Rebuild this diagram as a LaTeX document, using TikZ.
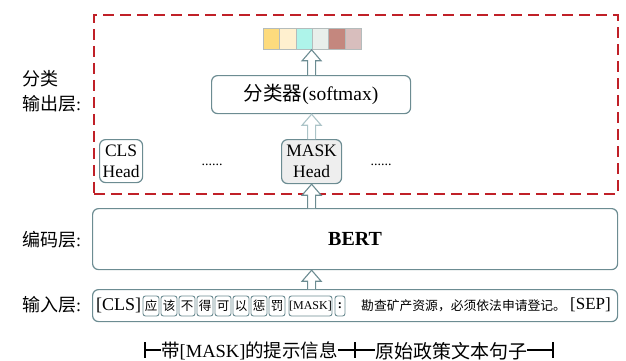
\documentclass[tikz,border=0pt]{standalone}
\usepackage{fontspec}
\setmainfont{Liberation Serif}
\newfontfamily\cjk{Noto Sans CJK SC}
\usetikzlibrary{calc}
\definecolor{bd}{RGB}{108,140,146}
\definecolor{bdl}{RGB}{172,196,200}
\definecolor{redd}{RGB}{192,32,40}
\definecolor{cA}{HTML}{FDDB7D}
\definecolor{cB}{HTML}{FFF0CF}
\definecolor{cC}{HTML}{AEF4EA}
\definecolor{cD}{HTML}{E9EFEB}
\definecolor{cE}{HTML}{C4877E}
\definecolor{cF}{HTML}{D8BEBD}
\definecolor{cellbd}{HTML}{B4BCBC}
\definecolor{headfill}{HTML}{EEEEEE}
\newcommand\hollowup[3][bd]{%
  \draw[draw=#1, line width=1.1pt, fill=white, line join=miter]
    let \p1=(#2), \p2=(#3) in
    (\x1-4pt,\y1) -- (\x1-4pt,\y2-11pt) -- (\x1-9.5pt,\y2-11pt) -- (\x1,\y2)
    -- (\x1+9.5pt,\y2-11pt) -- (\x1+4pt,\y2-11pt) -- (\x1+4pt,\y1);
}
\begin{document}
\begin{tikzpicture}[x=1pt,y=-1pt,
  box/.style={draw=bd, line width=1.2pt, rounded corners=6pt, fill=white, inner sep=0pt, anchor=north west},
  tok/.style={draw=bd, line width=0.9pt, rounded corners=2.5pt, fill=white, inner sep=0pt,
     minimum height=20pt, font=\fontsize{12.5}{13}\selectfont},
  cell/.style={draw=cellbd, line width=0.8pt, inner sep=0pt, minimum width=16.3pt, minimum height=21pt, anchor=north west},
  lab/.style={anchor=west, inner sep=0pt, font=\fontsize{18}{20}\selectfont},
  headtxt/.style={align=center, font=\fontsize{17.5}{21}\selectfont},
  rule/.style={line width=1.1pt, black}
]
\useasboundingbox (0,0) rectangle (626,361);

% red dashed frame
\node[draw=redd, line width=1.8pt, dash pattern=on 11pt off 6pt, inner sep=0pt,
  minimum width=524pt, minimum height=179pt, anchor=north west] (outframe) at (93,14) {};

% left labels
\node[lab] (l1) at (22,79) {\cjk 分类};
\node[lab] (l2) at (22,104) {{\cjk 输出层}:};
\node[lab] (l3) at (22,240) {{\cjk 编码层}:};
\node[lab] (l4) at (22,305) {{\cjk 输入层}:};

% output strip
\node[cell, fill=cA] (c1) at (263,28) {};
\node[cell, fill=cB] (c2) at (279.3,28) {};
\node[cell, fill=cC] (c3) at (295.6,28) {};
\node[cell, fill=cD] (c4) at (311.9,28) {};
\node[cell, fill=cE] (c5) at (328.2,28) {};
\node[cell, fill=cF] (c6) at (344.5,28) {};

% softmax
\node[box, minimum width=199pt, minimum height=38pt, font=\fontsize{19.5}{21}\selectfont] (soft) at (211,75) {{\cjk 分类器}(softmax)};

% heads
\node[box, minimum width=43pt, minimum height=43pt, headtxt] (cls) at (99,139) {CLS\\Head};
\node[box, fill=headfill, minimum width=60pt, minimum height=44pt, headtxt] (mask) at (281,139) {MASK\\Head};
\node[font=\fontsize{14}{16}\selectfont, inner sep=0pt] (d1) at (212,165) {......};
\node[font=\fontsize{14}{16}\selectfont, inner sep=0pt] (d2) at (381,165) {......};

% BERT
\node[box, minimum width=525pt, minimum height=61pt, font=\fontsize{20}{22}\selectfont\bfseries] (bert) at (92,208) {BERT};

% input
\node[box, minimum width=525pt, minimum height=32pt] (inp) at (92,289) {};
\node[anchor=west, inner sep=0pt, font=\fontsize{18}{20}\selectfont] (cls0) at (96,305) {[CLS]};
\node[tok, minimum width=16pt] (k1) at (151,306) {\cjk 应};
\node[tok, minimum width=16pt] (k2) at (169,306) {\cjk 该};
\node[tok, minimum width=16pt] (k3) at (187,306) {\cjk 不};
\node[tok, minimum width=16pt] (k4) at (205,306) {\cjk 得};
\node[tok, minimum width=16pt] (k5) at (223,306) {\cjk 可};
\node[tok, minimum width=16pt] (k6) at (241,306) {\cjk 以};
\node[tok, minimum width=16pt] (k7) at (259,306) {\cjk 惩};
\node[tok, minimum width=16pt] (k8) at (277,306) {\cjk 罚};
\node[tok, minimum width=43pt, font=\fontsize{12}{13}\selectfont] (km) at (310.5,306) {[MASK]};
\node[tok, minimum width=10pt] (kc) at (340,306) {\bfseries :};
\node[anchor=west, inner sep=0pt, font=\fontsize{12.8}{14}\selectfont] (sent) at (361,306) {\cjk 勘查矿产资源，必须依法申请登记。};
\node[anchor=east, inner sep=0pt, font=\fontsize{17}{19}\selectfont] (sep) at (611,305) {[SEP]};

% arrows
\hollowup{mask.south |- inp.north}{mask.south |- bert.south}
\hollowup{mask.south |- bert.north}{mask.south}
\hollowup[bdl]{mask.north}{soft.south}
\hollowup{soft.north -| mask.north}{c3.south -| mask.north}

% bottom brackets
\coordinate (t1) at (145,350);
\coordinate (t2) at (355,350);
\coordinate (t3) at (553,350);
\node[lab, font=\fontsize{18.5}{20}\selectfont] (b1) at (161,351) {{\cjk 带}[MASK]{\cjk 的提示信息}};
\node[lab, font=\fontsize{19}{20}\selectfont] (b2) at (375,351) {\cjk 原始政策文本句子};
\draw[rule] ($(t1)+(0,-8)$) -- ($(t1)+(0,8)$);
\draw[rule] ($(t2)+(0,-8)$) -- ($(t2)+(0,8)$);
\draw[rule] ($(t3)+(0,-8)$) -- ($(t3)+(0,8)$);
\draw[rule] (t1) -- (b1.west |- t1);
\draw[rule] (b1.east |- t2) -- (t2) -- (b2.west |- t2);
\draw[rule] (b2.east |- t3) -- (t3);
\end{tikzpicture}
\end{document}
